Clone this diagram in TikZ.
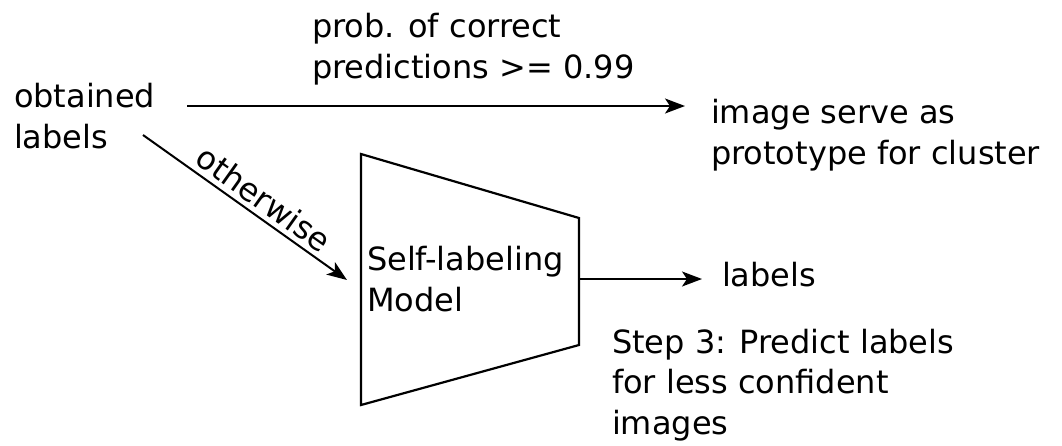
\documentclass[tikz,border=0pt]{standalone}
\usepackage{fontspec}
\setmainfont{DejaVu Sans}
\usetikzlibrary{arrows.meta}
\begin{document}
\begin{tikzpicture}[x=1pt,y=-1pt,
  txt/.style={inner sep=0pt, outer sep=0pt, align=left, anchor=base west, font=\fontsize{32}{40.5}\selectfont},
  conn/.style={line width=2pt, -{Stealth[length=20pt,width=15pt,inset=5pt]}},
  shapeline/.style={line width=2.2pt, line join=miter}]
\useasboundingbox (0,0) rectangle (1062,445);
% texts (anchored at the baseline of their last line)
\node[txt] (obt) at (14,148) {obtained\\labels};
\node[txt] (prob) at (312,78) {prob. of correct\\predictions >= 0.99};
\node[txt] (img) at (711,164) {image serve as\\prototype for cluster};
\node[txt] (model) at (367,311) {Self-labeling\\Model};
\node[txt] (lab) at (722,286) {labels};
\node[txt] (step) at (612,434) {Step 3: Predict labels\\for less confident\\images};
% trapezoid
\coordinate (tl) at (361,154);
\coordinate (bl) at (361,405);
\coordinate (tr) at (579,218);
\coordinate (br) at (579,345);
\draw[shapeline] (tl) -- (tr) -- (br) -- (bl) -- cycle;
% connector anchors
\coordinate (a1) at (187,106);
\coordinate (a2) at (685,106);
\coordinate (d1) at (143,135);
\coordinate (d2) at (347,280);
\coordinate (m1) at (579,279);
\coordinate (m2) at (702,279);
\draw[conn] (a1) -- (a2);
\draw[conn] (d1) -- node[txt, anchor=south, pos=0.54, sloped, above=6pt] {otherwise} (d2);
\draw[conn] (m1) -- (m2);
\end{tikzpicture}
\end{document}
